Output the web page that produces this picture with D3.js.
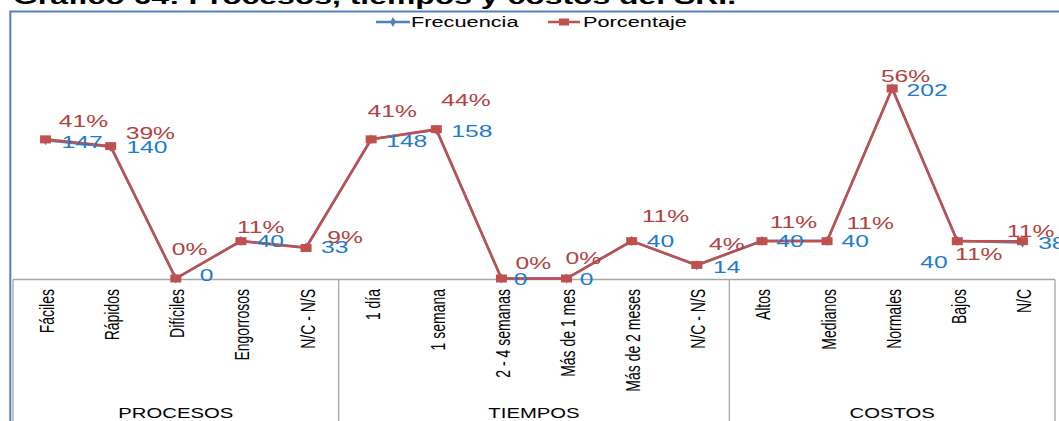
<!DOCTYPE html>
<html><head><meta charset="utf-8">
<script src="https://cdn.jsdelivr.net/npm/d3@7"></script>
<style>html,body{margin:0;padding:0;background:#fff;overflow:hidden}svg{display:block}</style>
</head><body>
<div id="chart"></div>
<script>
// ---- data ----
const categories = ["Fáciles","Rápidos","Difíciles","Engorrosos","N/C - N/S",
  "1 día","1 semana","2 - 4 semanas","Más de 1 mes","Más de 2 meses","N/C - N/S",
  "Altos","Medianos","Normales","Bajos","N/C"];
const groups = ["PROCESOS","TIEMPOS","COSTOS"];
const groupSizes = [5,6,5];
const frecuencia = [147,140,0,40,33,148,158,0,0,40,14,40,40,202,40,38];
const porcentaje = [41,39,0,11,9,41,44,0,0,11,4,11,11,56,11,11];
const seriesNames = ["Frecuencia","Porcentaje"];
const title = "Gráfico 64: Procesos, tiempos y costos del SRI.";

// ---- layout (label offsets relative to markers) ----
const blueLab = [[16,1.7],[15.7,0.7],[24,-4],[15.7,0.3],[15,-0.3],[15,2],[15,1],[12.3,0.7],[13.3,0.7],[15,0.3],[16.3,2],[14.4,0.3],[14.4,0.3],[14.4,1.7],[-9.6,21.3,"end"],[15.7,0.3]];
const redLab = [[13.3,-18.3],[15,-12.8],[-4,-29.5],[-4,-14.2],[21.3,-10.8],[-3.7,-28],[5,-29.5],[14,-15.3],[-1,-20.3],[10,-24.7],[12.3,-21],[7.7,-18.7],[19.4,-17.7],[-11.3,-12.8],[-2.3,13.3],[-15.6,-9.7]];

const W = 1059, H = 421, SX = 1.45;
const FONT = "'Liberation Sans', Arial, sans-serif";
const RED = "#C0504D", REDTXT = "#B0433F", BLUE = "#4F81BD", BLUETXT = "#1C7CCB", GRID = "#A6A6A6";

const svg = d3.select("#chart").append("svg").attr("width", W).attr("height", H);

const x = d3.scalePoint().domain(d3.range(categories.length)).range([13, 1055]).padding(0.5);
const step = x.step();
const left = 13, right = 1055;
const y = d3.scaleLinear().domain([0, 250]).range([278.5, 43.3]);
const y2 = d3.scaleLinear().domain([0, 56 * 250 / 202]).range([278.5, 43.3]);

function stext(parent, tx, ty, str) {
  return parent.append("g").attr("transform", `translate(${tx},${ty}) scale(${SX},1)`)
    .append("text").text(str);
}

// title (cut off at top)
stext(svg, 13, 4, title).attr("font-family", FONT).attr("font-weight", "bold")
  .attr("font-size", 22).attr("fill", "#000");

// outer border
svg.append("path").attr("d", `M10.3,${H} V11.5 H${W}`).attr("fill", "none")
  .attr("stroke", BLUE).attr("stroke-width", 2);

// legend
const lg = svg.append("g");
lg.append("line").attr("x1", 376).attr("x2", 410).attr("y1", 22).attr("y2", 22).attr("stroke", BLUE).attr("stroke-width", 2.5);
lg.append("path").attr("d", d3.symbol(d3.symbolDiamond, 30)()).attr("transform", "translate(393,22)").attr("fill", BLUE);
stext(lg, 411, 26.7, seriesNames[0]).attr("font-family", FONT).attr("font-size", 15).attr("fill", "#000");
lg.append("line").attr("x1", 548).attr("x2", 580).attr("y1", 22).attr("y2", 22).attr("stroke", RED).attr("stroke-width", 2.5);
lg.append("rect").attr("x", 559).attr("y", 18.5).attr("width", 10).attr("height", 7).attr("fill", RED);
stext(lg, 583, 26.7, seriesNames[1]).attr("font-family", FONT).attr("font-size", 15).attr("fill", "#000");

// category axis box
const ax = svg.append("g").attr("stroke", GRID).attr("stroke-width", 1.3).attr("fill", "none");
ax.append("line").attr("x1", left).attr("x2", right).attr("y1", 279.5).attr("y2", 279.5);
let cum = 0;
const bounds = [0];
groupSizes.forEach(s => { cum += s; bounds.push(cum); });
bounds.forEach(b => {
  const bx = left + b * step;
  ax.append("line").attr("x1", bx).attr("x2", bx).attr("y1", 279.5).attr("y2", H);
});

// tick labels (rotated)
categories.forEach((c, i) => {
  svg.append("g").attr("transform", `translate(${x(i) + 1.5},289) scale(${SX},1) rotate(-90)`)
    .append("text").text(c).attr("text-anchor", "end").attr("dominant-baseline", "central")
    .attr("font-family", FONT).attr("font-size", 14).attr("fill", "#000");
});
// group labels
groups.forEach((g, k) => {
  const cx = left + (bounds[k] + bounds[k + 1]) / 2 * step;
  stext(svg, cx, 418, g).attr("text-anchor", "middle").attr("font-family", FONT)
    .attr("font-size", 14).attr("fill", "#000");
});

// series: Frecuencia (blue, underneath)
const lineF = d3.line().x((d, i) => x(i)).y(d => y(d));
svg.append("path").datum(frecuencia).attr("d", lineF).attr("fill", "none").attr("stroke", BLUE).attr("stroke-width", 2.5);
svg.selectAll(".dm").data(frecuencia).join("path").attr("d", d3.symbol(d3.symbolDiamond, 30)())
  .attr("transform", (d, i) => `translate(${x(i)},${y(d)})`).attr("fill", BLUE);

// series: Porcentaje (red, secondary axis)
const lineP = d3.line().x((d, i) => x(i)).y(d => y2(d));
svg.append("path").datum(porcentaje).attr("d", lineP).attr("fill", "none").attr("stroke", RED).attr("stroke-width", 2.5);
svg.selectAll(".sq").data(porcentaje).join("rect")
  .attr("x", (d, i) => x(i) - 5.5).attr("y", d => y2(d) - 4).attr("width", 11).attr("height", 8).attr("fill", RED);

// data labels
frecuencia.forEach((d, i) => {
  const o = blueLab[i];
  stext(svg, x(i) + o[0], y(d) + o[1] + 6, String(d)).attr("text-anchor", o[2] || "start")
    .attr("font-family", FONT).attr("font-size", 17).attr("fill", BLUETXT);
});
porcentaje.forEach((d, i) => {
  const o = redLab[i];
  stext(svg, x(i) + o[0], y2(d) + o[1] + 6, d + "%").attr("font-family", FONT)
    .attr("font-size", 17).attr("fill", REDTXT);
});
</script>
</body></html>
